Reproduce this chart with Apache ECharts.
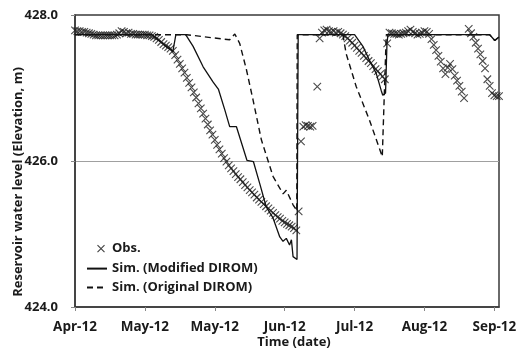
<!DOCTYPE html>
<html><head><meta charset="utf-8">
<script src="https://cdn.jsdelivr.net/npm/echarts@6/dist/echarts.min.js"></script>
<style>html,body{margin:0;padding:0;background:#fff}#c{width:523px;height:350px}</style>
</head><body><div id="c"></div>
<script>
const tickLabels = ['Apr-12','May-12','May-12','Jun-12','Jul-12','Aug-12','Sep-12'];
const yTitle = 'Reservoir water level (Elevation, m)';
const xTitle = 'Time (date)';
const seriesNames = ['Obs.', 'Sim. (Modified DIROM)', 'Sim. (Original DIROM)'];

// Observed (day index from 2012-04-01)
const obsDays = [
  0,1,2,3,4,5,6,7,8,9,10,11,12,13,14,15,16,17,18,19,20,21,22,23,24,25,26,27,28,29,
  30,31,32,33,34,35,36,37,38,39,40,41,42,43,44,45,46,47,48,49,50,51,52,53,54,55,56,57,58,59,
  60,61,62,63,64,65,66,67,68,69,70,71,72,73,74,75,76,77,78,79,80,81,82,83,84,85,86,87,88,89,
  90,91,92,93,94,95,96,97,98,99,100,101,102,104,105,106,107,108,109,110,111,112,113,114,115,116,117,118,119,
  120,121,122,123,124,125,126,127,128,129,130,131,132,133,134,135,136,137,138,139,140,141,142,143,144,145,146,147,148,149,
  150,151,152,153,154,155,156,157,158,159,160,161,162,163,164,165,166,167,169,170,171,172,173,174,175,176,177,178,179,
  180,181,182
];
const obsLevels = [
  427.79,427.78,427.78,427.77,427.77,427.76,427.75,427.74,427.73,427.72,427.72,427.72,427.72,427.72,427.72,427.72,427.72,427.72,427.73,427.75,427.78,427.77,427.75,427.76,427.74,427.74,427.73,427.73,427.73,427.73,
  427.73,427.72,427.72,427.71,427.70,427.68,427.66,427.63,427.60,427.58,427.56,427.54,427.51,427.45,427.39,427.33,427.27,427.21,427.14,427.07,427.01,426.94,426.87,426.79,426.72,426.65,426.58,426.50,426.42,426.36,
  426.29,426.22,426.16,426.10,426.04,425.99,425.94,425.90,425.86,425.82,425.78,425.75,425.71,425.67,425.64,425.60,425.57,425.54,425.50,425.47,425.44,425.41,425.38,425.35,425.32,425.29,425.26,425.23,425.21,425.18,
  425.16,425.14,425.12,425.10,425.08,425.05,425.31,426.27,426.47,426.49,426.48,426.47,426.48,427.02,427.68,427.76,427.79,427.80,427.78,427.77,427.78,427.76,427.77,427.75,427.73,427.71,427.68,427.65,427.62,
  427.58,427.55,427.51,427.48,427.44,427.41,427.37,427.34,427.30,427.26,427.23,427.19,427.16,427.12,427.61,427.76,427.75,427.74,427.74,427.73,427.74,427.75,427.76,427.78,427.80,427.77,427.75,427.73,427.74,427.76,
  427.78,427.77,427.74,427.67,427.59,427.52,427.44,427.36,427.27,427.19,427.28,427.33,427.26,427.17,427.10,427.03,426.95,426.86,427.81,427.75,427.70,427.62,427.54,427.46,427.37,427.27,427.12,427.03,426.93,
  426.90,426.89,426.89
];

// Simulated, modified DIROM
const modDays = [0,33,36,39,42,42.6,43.3,47.5,50.7,55,59.3,61.6,64.3,66.4,69.3,73.8,76.6,79.3,82.1,85,87.9,89.3,90.7,92.1,92.9,93.6,95.3,95.8,120,123.6,126.4,129.3,131.4,132.1,133.3,133.9,134.3,178,180.2,182];
const modLevels = [427.73,427.73,427.65,427.57,427.5,427.48,427.73,427.73,427.57,427.29,427.08,426.98,426.70,426.47,426.47,426.01,425.99,425.69,425.37,425.22,424.96,424.90,424.94,424.85,424.92,424.69,424.65,427.73,427.73,427.57,427.38,427.20,426.97,426.90,426.93,427.60,427.73,427.73,427.65,427.70];

// Simulated, original DIROM
const origDays = [0,48,66.4,68.6,70.7,73.6,76.4,80,85,89.3,90.7,93.6,95.2,95.4,115,116.4,120.7,126.4,131.9,133.6,178,180.2,182];
const origLevels = [427.73,427.73,427.66,427.74,427.61,427.25,426.84,426.29,425.79,425.55,425.60,425.40,425.32,427.73,427.73,427.47,427.02,426.56,426.06,427.73,427.73,427.65,427.70];

const FONT = 'Open Sans';
const pair = (xs, ys) => xs.map((x, i) => [x, ys[i]]);
const CROSS = 'path://M0,0L10,10M0,10L10,0';
const LEGEND_CROSS = 'path://M0,0M20,14M10.5,3.5L17.5,10.5M10.5,10.5L17.5,3.5';

const chart = echarts.init(document.getElementById('c'), null, {renderer: 'canvas'});
chart.setOption({
  animation: false,
  backgroundColor: '#fff',
  grid: {left: 75, right: 24, top: 15, bottom: 43, show: true, borderColor: '#3a3a3a', borderWidth: 1.5, backgroundColor: 'transparent'},
  xAxis: {
    type: 'value', min: 0, max: 182, interval: 30,
    axisLine: {show: true, onZero: false, lineStyle: {color: '#3a3a3a', width: 1.5}},
    axisTick: {show: true, length: 4, lineStyle: {color: '#888'}},
    axisLabel: {
      formatter: v => (v % 30 === 0 ? tickLabels[v / 30] : ''),
      margin: 13, fontSize: 13.5, fontWeight: 'bold', color: '#1a1a1a', fontFamily: FONT, showMaxLabel: false
    },
    splitLine: {show: false}
  },
  yAxis: {
    type: 'value', min: 424, max: 428, interval: 2,
    axisLine: {show: true, lineStyle: {color: '#3a3a3a', width: 1.5}},
    axisTick: {show: true, length: 4, lineStyle: {color: '#888'}},
    axisLabel: {formatter: v => v.toFixed(1), margin: 17, fontSize: 13, fontWeight: 'bold', color: '#1a1a1a', fontFamily: FONT},
    splitLine: {show: true, lineStyle: {color: ['rgba(0,0,0,0)', '#a0a0a0', 'rgba(0,0,0,0)'], width: 1}}
  },
  legend: {
    orient: 'vertical', left: 86, top: 241, padding: 0, itemWidth: 20, itemHeight: 14, itemGap: 6,
    textStyle: {fontFamily: FONT, fontSize: 13, fontWeight: 'bold', color: '#1a1a1a'},
    data: [
      {name: seriesNames[0], icon: LEGEND_CROSS, itemStyle: {color: 'rgba(0,0,0,0)', borderColor: '#111', borderWidth: 1.1}},
      {name: seriesNames[1], itemStyle: {opacity: 0}},
      {name: seriesNames[2], itemStyle: {opacity: 0}}
    ]
  },
  graphic: [
    {type: 'text', x: 18, y: 182, rotation: Math.PI / 2,
     style: {text: yTitle, fill: '#1a1a1a', font: 'bold 13px "Open Sans"', textAlign: 'center', textVerticalAlign: 'middle'}},
    {type: 'text', x: 294, y: 342,
     style: {text: xTitle, fill: '#1a1a1a', font: 'bold 13px "Open Sans"', textAlign: 'center', textVerticalAlign: 'middle'}}
  ],
  series: [
    {
      name: seriesNames[0], type: 'scatter', data: pair(obsDays, obsLevels),
      symbol: CROSS, symbolSize: 7.5,
      itemStyle: {color: 'rgba(0,0,0,0)', borderColor: '#1e1e1e', borderWidth: 1.1},
      z: 2
    },
    {
      name: seriesNames[1], type: 'line', data: pair(modDays, modLevels),
      symbol: 'none', showSymbol: false,
      lineStyle: {color: '#111', width: 1.3, type: 'solid'},
      itemStyle: {color: '#111'}, z: 3
    },
    {
      name: seriesNames[2], type: 'line', data: pair(origDays, origLevels),
      symbol: 'none', showSymbol: false,
      lineStyle: {color: '#111', width: 1.4, type: [6, 4]},
      itemStyle: {color: '#111'}, z: 3
    }
  ]
});
</script>
</body></html>
